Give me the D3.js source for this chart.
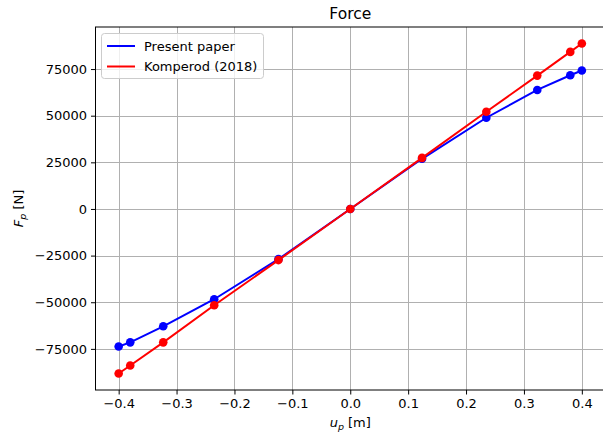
<!DOCTYPE html>
<html>
<head>
<meta charset="utf-8">
<script src="https://cdn.jsdelivr.net/npm/d3@7"></script>
<style>
  body { margin: 0; background: #fff; }
  svg { display: block; font-family: "DejaVu Sans", sans-serif; }
</style>
</head>
<body>
<svg id="chart" width="603" height="432"></svg>
<script>
const displacement = [-0.4, -0.38, -0.323, -0.235, -0.124, 0, 0.124, 0.235, 0.323, 0.38, 0.4];
const presentPaper = [-73700, -71500, -62900, -48400, -26900, 0, 26900, 48900, 63800, 71700, 74200];
const komperod = [-88200, -83900, -71500, -51600, -27400, 0, 27400, 52100, 71500, 84200, 88700];
const xTicks = [-0.4, -0.3, -0.2, -0.1, 0, 0.1, 0.2, 0.3, 0.4];
const yTicks = [-75000, -50000, -25000, 0, 25000, 50000, 75000];
const seriesNames = ["Present paper", "Komperod (2018)"];
const seriesColors = ["#0000ff", "#ff0000"];

const svg = d3.select("#chart");
const m = { left: 95.5, right: 605, top: 27, bottom: 390 };

const xExt = d3.extent(displacement);
const xPad = (xExt[1] - xExt[0]) * 0.05;
const x = d3.scaleLinear().domain([xExt[0] - xPad, xExt[1] + xPad]).range([m.left, m.right]);
const allY = presentPaper.concat(komperod);
const yExt = d3.extent(allY);
const yPad = (yExt[1] - yExt[0]) * 0.05;
const y = d3.scaleLinear().domain([yExt[0] - yPad, yExt[1] + yPad]).range([m.bottom, m.top]);

// grid
const grid = svg.append("g");
grid.selectAll(".gx").data(xTicks).join("line")
  .attr("x1", d => Math.round(x(d)) + 0.5).attr("x2", d => Math.round(x(d)) + 0.5)
  .attr("y1", m.top).attr("y2", m.bottom)
  .attr("stroke", "#b0b0b0").attr("stroke-width", 1);
grid.selectAll(".gy").data(yTicks).join("line")
  .attr("y1", d => Math.round(y(d)) + 0.5).attr("y2", d => Math.round(y(d)) + 0.5)
  .attr("x1", m.left).attr("x2", m.right)
  .attr("stroke", "#b0b0b0").attr("stroke-width", 1);

// axes
const fmtX = d3.format(".1f");
const xAxis = svg.append("g").attr("transform", `translate(0,${m.bottom})`)
  .call(d3.axisBottom(x).tickValues(xTicks).tickFormat(fmtX).tickSize(4.5).tickPadding(4));
const yAxis = svg.append("g").attr("transform", `translate(${m.left},0)`)
  .call(d3.axisLeft(y).tickValues(yTicks).tickFormat(d3.format("d")).tickSize(4.5).tickPadding(4));
[xAxis, yAxis].forEach(a => {
  a.selectAll("text").attr("font-size", 13).attr("fill", "#000").attr("font-family", "DejaVu Sans");
  a.selectAll(".tick line").attr("stroke", "#000").attr("stroke-width", 1);
  a.select(".domain").remove();
});
// spines
svg.append("rect").attr("x", m.left).attr("y", m.top)
  .attr("width", m.right - m.left).attr("height", m.bottom - m.top)
  .attr("fill", "none").attr("stroke", "#000").attr("stroke-width", 1);

// series
const seriesData = [presentPaper, komperod];
seriesData.forEach((vals, i) => {
  const pts = displacement.map((d, j) => [d, vals[j]]);
  svg.append("path").datum(pts)
    .attr("d", d3.line().x(d => x(d[0])).y(d => y(d[1])))
    .attr("fill", "none").attr("stroke", seriesColors[i]).attr("stroke-width", 2);
  svg.append("g").selectAll("circle").data(pts).join("circle")
    .attr("cx", d => x(d[0])).attr("cy", d => y(d[1])).attr("r", 4.3)
    .attr("fill", seriesColors[i]);
});

// title
svg.append("text").attr("x", (m.left + m.right) / 2).attr("y", 19)
  .attr("text-anchor", "middle").attr("font-size", 15.5).text("Force");

// x label
const xl = svg.append("text").attr("x", (m.left + m.right) / 2).attr("y", 427)
  .attr("text-anchor", "middle").attr("font-size", 13);
xl.append("tspan").attr("font-style", "italic").text("u");
xl.append("tspan").attr("font-style", "italic").attr("font-size", 9.5).attr("dy", 3).text("p");
xl.append("tspan").attr("dy", -3).text(" [m]");

// y label
const yl = svg.append("text").attr("transform", `translate(23,${(m.top + m.bottom) / 2}) rotate(-90)`)
  .attr("text-anchor", "middle").attr("font-size", 13);
yl.append("tspan").attr("font-style", "italic").text("F");
yl.append("tspan").attr("font-style", "italic").attr("font-size", 9.5).attr("dy", 3).text("p");
yl.append("tspan").attr("dy", -3).text(" [N]");

// legend
const lg = svg.append("g");
lg.append("rect").attr("x", 101.5).attr("y", 33.5).attr("width", 162).attr("height", 45).attr("rx", 3)
  .attr("fill", "#fff").attr("fill-opacity", 0.8).attr("stroke", "#cccccc").attr("stroke-width", 1);
seriesNames.forEach((n, i) => {
  const yy = 46 + i * 20.5;
  lg.append("line").attr("x1", 107).attr("x2", 135).attr("y1", yy).attr("y2", yy)
    .attr("stroke", seriesColors[i]).attr("stroke-width", 2);
  lg.append("text").attr("x", 144).attr("y", yy + 4.5).attr("font-size", 13).text(n);
});
</script>
</body>
</html>
